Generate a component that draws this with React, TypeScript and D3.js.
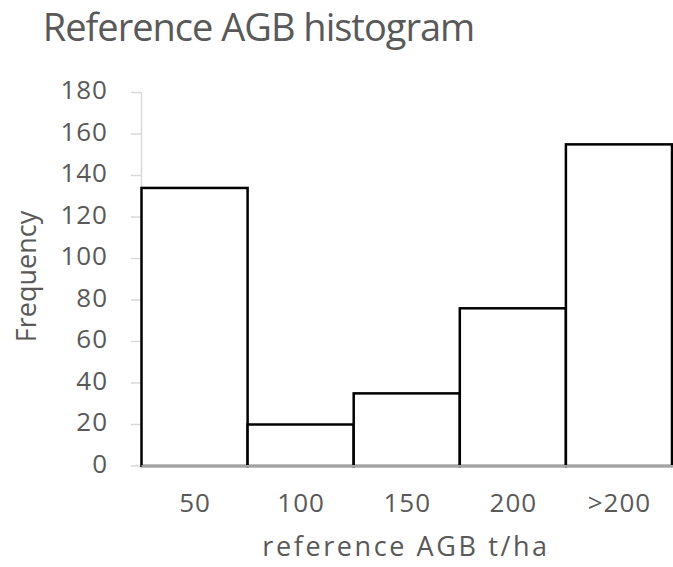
import * as d3 from 'd3';

const categories = ['50', '100', '150', '200', '>200'];
const frequency = [134, 20, 35, 76, 155];
const yTicks = [0, 20, 40, 60, 80, 100, 120, 140, 160, 180];

const W = 673;
const H = 567;
const font = "'Open Sans', 'Noto Sans', sans-serif";
const textColor = '#595959';

export default function App() {
    const x = d3.scaleBand<string>()
        .domain(categories)
        .range([141.5, 672])
        .padding(0);

    const y = d3.scaleLinear()
        .domain([0, 180])
        .range([466, 92.5]);

    return (
        <div style={{ position: 'fixed', left: 0, top: 0 }}>
            <svg width={W} height={H} style={{ display: 'block', background: '#fff' }}>
                <text x={258.5} y={41} textAnchor="middle" fontFamily={font} fontSize={38} letterSpacing={-1} fill={textColor}>
                    Reference AGB histogram
                </text>

                {/* y axis */}
                <line x1={141.5} x2={141.5} y1={y(180)} y2={y(0)} stroke="#d9d9d9" strokeWidth={1.5} />
                {yTicks.map(t => (
                    <g key={t}>
                        <line x1={131} x2={141.5} y1={y(t)} y2={y(t)} stroke="#d9d9d9" strokeWidth={1.5} />
                        <text x={108} y={y(t)} dy="0.25em" textAnchor="end" fontFamily={font} fontSize={26} letterSpacing={1} fill={textColor}>
                            {t}
                        </text>
                    </g>
                ))}

                {/* bars */}
                {categories.map((c, i) => (
                    <rect
                        key={c}
                        x={x(c) || 0}
                        y={y(frequency[i])}
                        width={x.bandwidth()}
                        height={y(0) - y(frequency[i])}
                        fill="#fff"
                        stroke="#000"
                        strokeWidth={2.5}
                    />
                ))}

                {/* x axis */}
                <line x1={141.5} x2={673} y1={y(0)} y2={y(0)} stroke="#d9d9d9" strokeWidth={1.5} />
                {categories.map(c => (
                    <text key={c} x={(x(c) || 0) + x.bandwidth() / 2 + 0.5} y={512} textAnchor="middle" fontFamily={font} fontSize={26} letterSpacing={1} fill={textColor}>
                        {c}
                    </text>
                ))}

                <text x={406} y={556} textAnchor="middle" fontFamily={font} fontSize={27} letterSpacing={2.6} fill={textColor}>
                    reference AGB t/ha
                </text>
                <text transform="translate(36,276.5) rotate(-90)" textAnchor="middle" fontFamily={font} fontSize={27} fill={textColor}>
                    Frequency
                </text>
            </svg>
        </div>
    );
}
